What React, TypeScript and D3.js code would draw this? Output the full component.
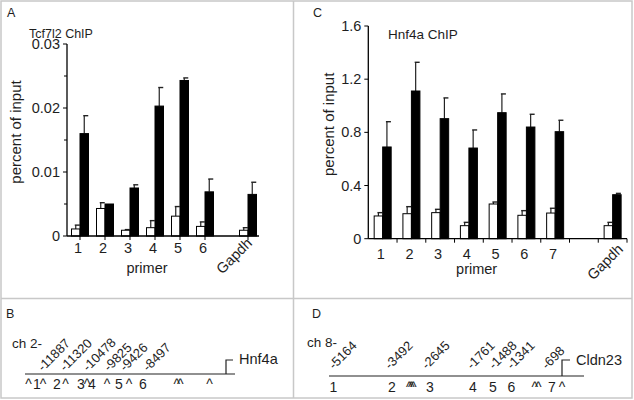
import React, { FC, useEffect, useRef } from "react"
import { select, scaleLinear, Selection } from "d3"

// panel A: Tcf7l2 ChIP
const tcfPrimers = ["1", "2", "3", "4", "5", "6", "Gapdh"]
const tcfSlots = [0, 1, 2, 3, 4, 5, 6.72]
const tcfIgG = [0.0011, 0.0043, 0.0009, 0.0013, 0.0031, 0.0015, 0.0009]
const tcfIgGErr = [0.0006, 0.0009, 0.0001, 0.0011, 0.0015, 0.0007, 0.0004]
const tcfChip = [0.016, 0.005, 0.0075, 0.0203, 0.0243, 0.0069, 0.0065]
const tcfChipErr = [0.0028, 0, 0.0005, 0.0029, 0.0004, 0.002, 0.0019]
const tcfTicks = [0, 0.01, 0.02, 0.03]
const tcfTickLabels = ["0", "0.01", "0.02", "0.03"]
const tcfMinorTicks = [0.005, 0.015, 0.025]

// panel C: Hnf4a ChIP
const hnfPrimers = ["1", "2", "3", "4", "5", "6", "7", "Gapdh"]
const hnfSlots = [0, 1, 2, 3, 4, 5, 6, 8]
const hnfIgG = [0.171, 0.188, 0.196, 0.098, 0.261, 0.176, 0.193, 0.098]
const hnfIgGErr = [0.025, 0.053, 0.025, 0.025, 0.015, 0.035, 0.036, 0.025]
const hnfChip = [0.69, 1.111, 0.903, 0.682, 0.948, 0.84, 0.805, 0.331]
const hnfChipErr = [0.19, 0.216, 0.156, 0.136, 0.141, 0.096, 0.086, 0.01]
const hnfTicks = [0, 0.4, 0.8, 1.2, 1.6]
const hnfTickLabels = ["0", "0.4", "0.8", "1.2", "1.6"]

// panel B: ch 2 map (schematic track units)
const bSiteLabels = ["-11887", "-11320", "-10478", "-9825", "-9426", "-8497"]
const bSitePos = [18, 40, 63, 84, 100, 123]
const bMarks = ["^", "1", "^", "2", "^", "3", "^", "4", "^", "5", "^", "6", "^^", "^"]
const bMarkPos = [3.5, 12, 18, 32, 40.5, 56, 62, 67, 82, 94, 104, 118, 152, 184.5]
const bTss = 201

// panel D: ch 8 map (schematic track units)
const dSiteLabels = ["-5164", "-3492", "-2645", "-1761", "-1488", "-1341", "-698"]
const dSitePos = [5, 61, 98, 143, 165, 183, 218]
const dMarks = ["1", "2", "^^^", "3", "4", "5", "6", "^^", "7", "^"]
const dMarkPos = [4.5, 63, 80, 101, 144, 164, 182.5, 206, 223, 233]
const dTss = 233

const font = "'Liberation Sans', Arial, sans-serif"
const ink = "#1e1e1e"

type G = Selection<SVGGElement, unknown, null, undefined>

type BarPanel = {
  primers: string[]
  slots: number[]
  igg: number[]
  iggErr: number[]
  chip: number[]
  chipErr: number[]
  ticks: number[]
  tickLabels: string[]
  minorTicks: number[]
  xDomain: [number, number]
  xRange: [number, number]
  yDomain: [number, number]
  yRange: [number, number]
  title: string
  titlePos: [number, number]
  titleSize: number
  xTickMode: "center" | "between"
  tickLabelY: number
  primerSlot: number
  primerY: number
  gapdhPos: [number, number]
  yLabelX: number
}

type MapPanel = {
  chrom: string
  chromPos: [number, number]
  gene: string
  labels: string[]
  sites: number[]
  marks: string[]
  markPos: number[]
  tss: number
  x0: number
  x1: number
  lineY: number
  labelY: number
  markY: number
  geneTop: number
  geneX: number
  geneY: number
}

const App: FC = () => {
  const svgRef = useRef<SVGSVGElement>(null)

  useEffect(() => {
    const svg = select(svgRef.current)
    svg.selectAll("*").remove()
    const root = svg.append("g") as unknown as G

    // frame
    const frame = root.append("g").attr("stroke", "#c8c8c8").attr("stroke-width", 1.5).attr("fill", "none")
    frame.append("rect").attr("x", 1).attr("y", 1).attr("width", 631).attr("height", 397)
    frame.append("line").attr("x1", 293.5).attr("x2", 293.5).attr("y1", 1).attr("y2", 398)
    frame.append("line").attr("x1", 1).attr("x2", 632).attr("y1", 298.5).attr("y2", 298.5)

    // panel letters
    const letters: [string, number, number][] = [
      ["A", 7, 17],
      ["C", 313, 17],
      ["B", 6, 318],
      ["D", 312, 318],
    ]
    letters.forEach(([t, x, y]) => {
      root.append("text").attr("x", x).attr("y", y).attr("font-size", 12.5).attr("fill", ink).text(t)
    })

    drawBarPanel(root, {
      primers: tcfPrimers,
      slots: tcfSlots,
      igg: tcfIgG,
      iggErr: tcfIgGErr,
      chip: tcfChip,
      chipErr: tcfChipErr,
      ticks: tcfTicks,
      tickLabels: tcfTickLabels,
      minorTicks: tcfMinorTicks,
      xDomain: [-0.52, 7.16],
      xRange: [67, 259],
      yDomain: [0, 0.03],
      yRange: [236, 44],
      title: "Tcf7l2 ChIP",
      titlePos: [29, 38],
      titleSize: 12.5,
      xTickMode: "center",
      tickLabelY: 253,
      primerSlot: 2.68,
      primerY: 273,
      gapdhPos: [253, 244],
      yLabelX: 21,
    })

    drawBarPanel(root, {
      primers: hnfPrimers,
      slots: hnfSlots,
      igg: hnfIgG,
      iggErr: hnfIgGErr,
      chip: hnfChip,
      chipErr: hnfChipErr,
      ticks: hnfTicks,
      tickLabels: hnfTickLabels,
      minorTicks: [],
      xDomain: [-0.5, 8.5],
      xRange: [368.3, 627],
      yDomain: [0, 1.6],
      yRange: [238.7, 26],
      title: "Hnf4a ChIP",
      titlePos: [388, 39],
      titleSize: 13.5,
      xTickMode: "between",
      tickLabelY: 259,
      primerSlot: 3.27,
      primerY: 274,
      gapdhPos: [624, 250],
      yLabelX: 334,
    })

    drawMap(root, {
      chrom: "ch 2-",
      chromPos: [12, 348],
      gene: "Hnf4a",
      labels: bSiteLabels,
      sites: bSitePos,
      marks: bMarks,
      markPos: bMarkPos,
      tss: bTss,
      x0: 25,
      x1: 235,
      lineY: 374,
      labelY: 372,
      markY: 389,
      geneTop: 360,
      geneX: 239,
      geneY: 364,
    })

    drawMap(root, {
      chrom: "ch 8-",
      chromPos: [307, 347],
      gene: "Cldn23",
      labels: dSiteLabels,
      sites: dSitePos,
      marks: dMarks,
      markPos: dMarkPos,
      tss: dTss,
      x0: 329,
      x1: 584,
      lineY: 376,
      labelY: 370,
      markY: 392,
      geneTop: 360,
      geneX: 576,
      geneY: 365,
    })
  }, [])

  const drawBarPanel = (root: G, p: BarPanel) => {
    const g = root.append("g")
    const xScale = scaleLinear().domain(p.xDomain).range(p.xRange)
    const yScale = scaleLinear().domain(p.yDomain).range(p.yRange)
    const barW = 8.5
    const y0 = yScale(0)

    // bars
    p.slots.forEach((s, i) => {
      const cx = xScale(s)
      const bars: [number, number, number, string][] = [
        [cx - barW, p.igg[i], p.iggErr[i], "#fff"],
        [cx, p.chip[i], p.chipErr[i], "#000"],
      ]
      bars.forEach(([bx, v, e, fill]) => {
        const top = yScale(v)
        if (e > 0) {
          const errTop = yScale(v + e)
          const mx = bx + barW / 2
          g.append("line").attr("x1", mx).attr("x2", mx).attr("y1", top).attr("y2", errTop).attr("stroke", "#222").attr("stroke-width", 1.2)
          g.append("line").attr("x1", mx - 1).attr("x2", mx + 4).attr("y1", errTop).attr("y2", errTop).attr("stroke", "#222").attr("stroke-width", 1.4)
        }
        g.append("rect")
          .attr("x", bx)
          .attr("y", top)
          .attr("width", barW)
          .attr("height", y0 - top)
          .attr("fill", fill)
          .attr("stroke", "#000")
          .attr("stroke-width", 1)
      })
    })

    // y axis
    const axisX = p.xRange[0]
    g.append("line").attr("x1", axisX).attr("x2", axisX).attr("y1", p.yRange[0]).attr("y2", p.yRange[1]).attr("stroke", "#000").attr("stroke-width", 1.3)
    p.ticks.forEach((t, i) => {
      g.append("line").attr("x1", axisX - 4).attr("x2", axisX).attr("y1", yScale(t)).attr("y2", yScale(t)).attr("stroke", "#000")
      g.append("text")
        .attr("x", axisX - 7)
        .attr("y", yScale(t) + 5)
        .attr("text-anchor", "end")
        .attr("font-size", 14.5)
        .attr("fill", ink)
        .text(p.tickLabels[i])
    })
    p.minorTicks.forEach((t) => {
      g.append("line").attr("x1", axisX - 3).attr("x2", axisX).attr("y1", yScale(t)).attr("y2", yScale(t)).attr("stroke", "#000")
    })

    // x axis
    g.append("line").attr("x1", p.xRange[0]).attr("x2", p.xRange[1]).attr("y1", y0).attr("y2", y0).attr("stroke", "#000").attr("stroke-width", 1.3)
    const xTicks =
      p.xTickMode === "center"
        ? p.slots
        : Array.from({ length: Math.round(p.xDomain[1] - p.xDomain[0]) }, (_, k) => p.xDomain[0] + k + 1)
    xTicks.forEach((s) => {
      g.append("line").attr("x1", xScale(s)).attr("x2", xScale(s)).attr("y1", y0).attr("y2", y0 + 4).attr("stroke", "#000")
    })

    p.primers.forEach((name, i) => {
      if (name === "Gapdh") {
        g.append("text")
          .attr("transform", `translate(${p.gapdhPos[0]},${p.gapdhPos[1]}) rotate(-45)`)
          .attr("text-anchor", "end")
          .attr("font-size", 14.5)
          .attr("fill", ink)
          .text(name)
      } else {
        g.append("text")
          .attr("x", xScale(p.slots[i]) - 2)
          .attr("y", p.tickLabelY)
          .attr("text-anchor", "middle")
          .attr("font-size", 14.5)
          .attr("fill", ink)
          .text(name)
      }
    })

    // axis titles
    g.append("text")
      .attr("x", xScale(p.primerSlot))
      .attr("y", p.primerY)
      .attr("text-anchor", "middle")
      .attr("font-size", 14.5)
      .attr("fill", ink)
      .text("primer")
    g.append("text")
      .attr("transform", `translate(${p.yLabelX},${(p.yRange[0] + p.yRange[1]) / 2 - 8}) rotate(-90)`)
      .attr("text-anchor", "middle")
      .attr("font-size", 15)
      .attr("fill", ink)
      .text("percent of input")

    g.append("text")
      .attr("x", p.titlePos[0])
      .attr("y", p.titlePos[1])
      .attr("font-size", p.titleSize)
      .attr("fill", ink)
      .text(p.title)
  }

  const drawMap = (root: G, m: MapPanel) => {
    const g = root.append("g")
    const xScale = scaleLinear().domain([0, m.x1 - m.x0]).range([m.x0, m.x1])

    g.append("text").attr("x", m.chromPos[0]).attr("y", m.chromPos[1]).attr("font-size", 13.5).attr("fill", ink).text(m.chrom)
    g.append("line").attr("x1", m.x0).attr("x2", m.x1).attr("y1", m.lineY).attr("y2", m.lineY).attr("stroke", "#222").attr("stroke-width", 1.2)

    // TSS arrow
    const tx = xScale(m.tss)
    g.append("path")
      .attr("d", `M${tx},${m.lineY}V${m.geneTop}h${m.geneX - tx - 6}`)
      .attr("fill", "none")
      .attr("stroke", "#222")
      .attr("stroke-width", 1.2)
    g.append("text").attr("x", m.geneX).attr("y", m.geneY).attr("font-size", 14.5).attr("fill", ink).text(m.gene)

    m.labels.forEach((t, i) => {
      g.append("text")
        .attr("transform", `translate(${xScale(m.sites[i])},${m.labelY}) rotate(-45)`)
        .attr("font-size", 13)
        .attr("fill", ink)
        .text(t)
    })

    m.marks.forEach((t, i) => {
      g.append("text")
        .attr("x", xScale(m.markPos[i]))
        .attr("y", m.markY)
        .attr("text-anchor", "middle")
        .attr("font-size", 14)
        .attr("letter-spacing", t.length > 2 ? -4.5 : t.length > 1 ? -3 : 0)
        .attr("fill", ink)
        .text(t)
    })
  }

  return (
    <svg
      ref={svgRef}
      width={634}
      height={400}
      style={{ position: "absolute", left: 0, top: 0, background: "#fff", fontFamily: font }}
    />
  )
}

export default App
